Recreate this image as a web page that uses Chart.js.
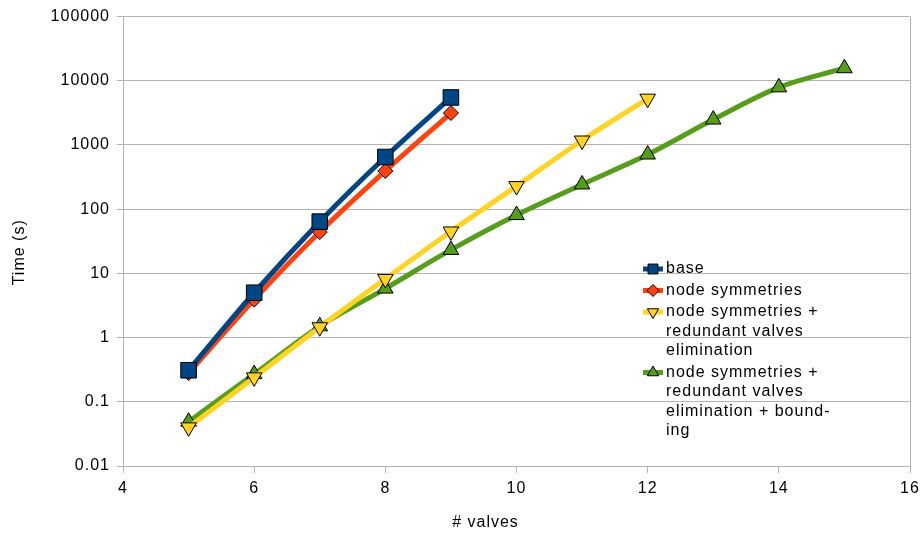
<!DOCTYPE html>
<html><head><meta charset="utf-8">
<script src="https://cdn.jsdelivr.net/npm/chart.js@4/dist/chart.umd.min.js"></script>
<style>html,body{margin:0;padding:0;background:#fff}#wrap{width:922px;height:535px}</style>
</head><body><div id="wrap"><canvas id="c" width="922" height="535"></canvas></div>
<script>
// ---- data ----
const baseX = [5, 6, 7, 8, 9];
const baseTime = [0.31, 5.0, 64, 650, 5500];
const symX = [5, 6, 7, 8, 9];
const symTime = [0.28, 3.9, 44, 395, 3150];
const redX = [5, 6, 7, 8, 9, 10, 11, 12];
const redTime = [0.040, 0.24, 1.45, 8.2, 45, 229, 1175, 5270];
const bndX = [5, 6, 7, 8, 9, 10, 11, 12, 13, 14, 15];
const bndTime = [0.049, 0.27, 1.5, 5.8, 23.2, 81, 243, 711, 2490, 7900, 15700];
const xTicks = [4, 6, 8, 10, 12, 14, 16];
const yTicks = [0.01, 0.1, 1, 10, 100, 1000, 10000, 100000];
const yTickLabels = ['0.01', '0.1', '1', '10', '100', '1000', '10000', '100000'];
const seriesNames = [
  ['base'],
  ['node symmetries'],
  ['node symmetries +', 'redundant valves', 'elimination'],
  ['node symmetries +', 'redundant valves', 'elimination + bound-', 'ing']
];
const xTitle = '# valves';
const yTitle = 'Time (s)';

const FONT = '"Liberation Sans", Arial, sans-serif';
const pts = (xs, ys) => xs.map((x, i) => ({x: x, y: ys[i]}));

const spacingPlugin = {
  id: 'spacing',
  beforeUpdate(chart) { chart.ctx.letterSpacing = '1px'; },
  beforeDraw(chart) {
    chart.ctx.letterSpacing = '1px';
    // offset axis titles to where the reference places them
    const shifts = {x: [-31, 0], y: [0, 11]};
    Object.keys(shifts).forEach(id => {
      const s = chart.scales[id];
      if (!s || s._titleShifted) return;
      const orig = s.drawTitle;
      const [dx, dy] = shifts[id];
      s.drawTitle = function () {
        this.left += dx; this.right += dx; this.top += dy; this.bottom += dy;
        try { orig.apply(this, arguments); }
        finally { this.left -= dx; this.right -= dx; this.top -= dy; this.bottom -= dy; }
      };
      s._titleShifted = true;
    });
  }
};

const legendR = [7, 6, 6.5, 6.5];
const legendPlugin = {
  id: 'customLegend',
  afterDraw(chart) {
    const ctx = chart.ctx;
    ctx.save();
    ctx.letterSpacing = '1px';
    ctx.font = '16px ' + FONT;
    ctx.textBaseline = 'middle';
    ctx.textAlign = 'left';
    let y = 269;
    chart.data.datasets.forEach((ds, i) => {
      ctx.strokeStyle = ds.borderColor;
      ctx.lineWidth = 5;
      ctx.beginPath(); ctx.moveTo(643, y); ctx.lineTo(663, y); ctx.stroke();
      ctx.fillStyle = ds.pointBackgroundColor;
      ctx.strokeStyle = '#000';
      ctx.lineWidth = 1;
      Chart.helpers.drawPoint(ctx, {pointStyle: ds.pointStyle, radius: legendR[i], rotation: ds.pointRotation || 0, borderWidth: 1}, 653, y);
      ctx.fillStyle = '#000';
      const lines = Array.isArray(ds.label) ? ds.label : [ds.label];
      lines.forEach((t, k) => ctx.fillText(t, 666, y + k * 19.5));
      y += (lines.length - 1) * 19.5 + 21.5;
    });
    ctx.restore();
  }
};

const common = {borderWidth: 5, pointBorderColor: '#000', pointBorderWidth: 1, cubicInterpolationMode: 'monotone', fill: false};

new Chart(document.getElementById('c'), {
  type: 'line',
  data: {
    datasets: [
      Object.assign({label: seriesNames[0], data: pts(baseX, baseTime), borderColor: '#004586', backgroundColor: '#004586', pointBackgroundColor: '#004586', pointStyle: 'rect', pointRadius: 11}, common),
      Object.assign({label: seriesNames[1], data: pts(symX, symTime), borderColor: '#ff420e', backgroundColor: '#ff420e', pointBackgroundColor: '#ff420e', pointStyle: 'rectRot', pointRadius: 7.5}, common),
      Object.assign({label: seriesNames[2], data: pts(redX, redTime), borderColor: '#ffd320', backgroundColor: '#ffd320', pointBackgroundColor: '#ffd320', pointStyle: 'triangle', pointRotation: 180, pointRadius: 9}, common),
      Object.assign({label: seriesNames[3], data: pts(bndX, bndTime), borderColor: '#579d1c', backgroundColor: '#579d1c', pointBackgroundColor: '#579d1c', pointStyle: 'triangle', pointRadius: 9}, common)
    ]
  },
  options: {
    responsive: false,
    animation: false,
    layout: {padding: {left: 0, right: 12, top: 15, bottom: 0}},
    plugins: {legend: {display: false}, tooltip: {enabled: false}},
    scales: {
      x: {
        type: 'linear', min: 4, max: 16,
        afterBuildTicks: s => { s.ticks = xTicks.map(v => ({value: v})); },
        afterFit: s => { s.height = 69; s.paddingRight = 0; s.paddingLeft = 0; },
        grid: {
          color: c => (c.tick && c.tick.value === 16) ? '#b3b3b3' : 'rgba(0,0,0,0)',
          tickColor: '#b3b3b3', tickLength: 7, drawOnChartArea: true, lineWidth: 1
        },
        border: {color: '#b3b3b3', width: 1},
        ticks: {color: '#000', font: {family: FONT, size: 16}, padding: 6, maxRotation: 0, autoSkip: false},
        title: {display: true, text: xTitle, color: '#000', font: {family: FONT, size: 16}, padding: {top: 0, bottom: 3}}
      },
      y: {
        type: 'logarithmic', min: 0.01, max: 100000,
        afterBuildTicks: s => { s.ticks = yTicks.map(v => ({value: v})); },
        afterFit: s => { s.width = 123; },
        grid: {color: '#b3b3b3', tickColor: '#b3b3b3', tickLength: 6, lineWidth: 1},
        border: {color: '#b3b3b3', width: 1},
        ticks: {color: '#000', font: {family: FONT, size: 16}, padding: 7, autoSkip: false,
          callback: v => yTickLabels[yTicks.indexOf(v)]},
        title: {display: true, text: yTitle, color: '#000', font: {family: FONT, size: 16}, padding: {top: 10, bottom: 0}}
      }
    }
  },
  plugins: [spacingPlugin, legendPlugin]
});
</script>
</body></html>
